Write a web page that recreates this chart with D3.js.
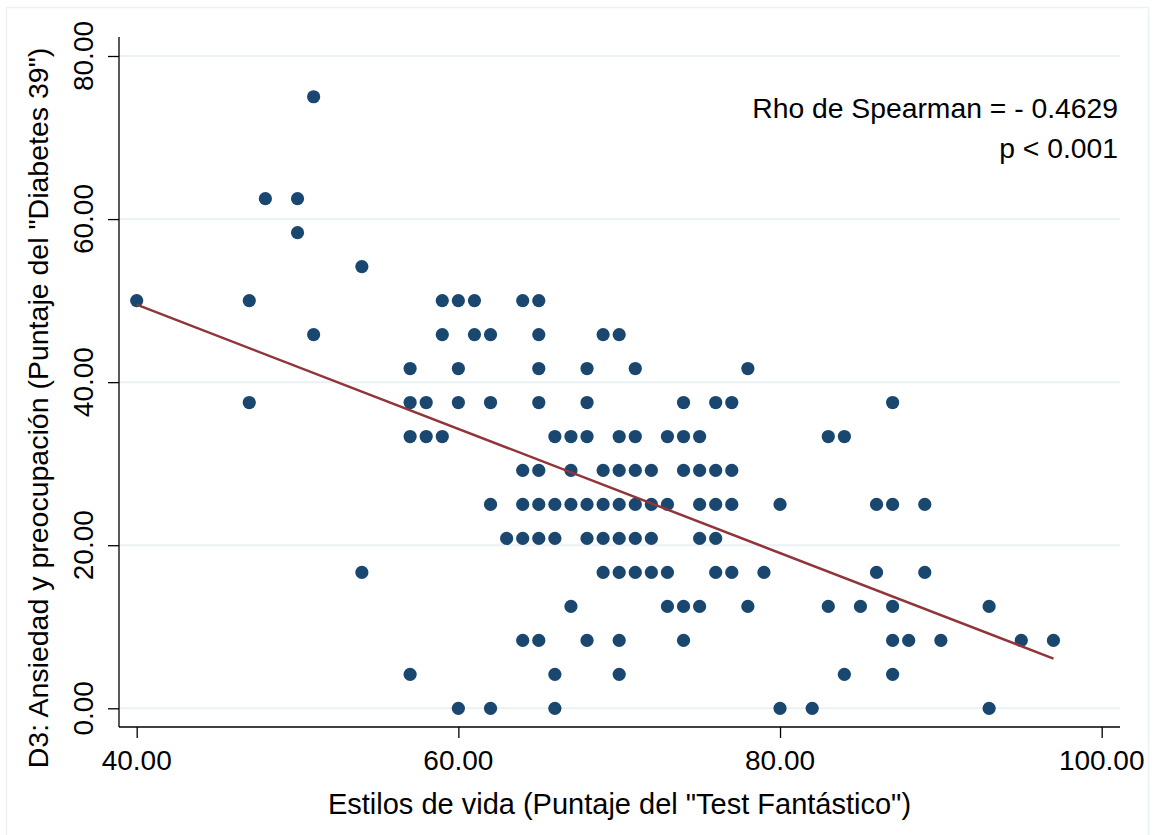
<!DOCTYPE html>
<html>
<head>
<meta charset="utf-8">
<script src="https://cdn.jsdelivr.net/npm/d3@7"></script>
<style>
  html, body { margin: 0; padding: 0; background: #ffffff; }
  svg { display: block; font-family: "Liberation Sans", Arial, sans-serif; }
</style>
</head>
<body>
<svg id="chart" width="1153" height="835"></svg>
<script>
// ---- data ----
const xValues = [
  40,
  47, 47,
  48,
  50, 50,
  51, 51,
  54, 54,
  57, 57, 57, 57,
  58, 58,
  59, 59, 59,
  60, 60, 60, 60,
  61, 61,
  62, 62, 62, 62,
  63,
  64, 64, 64, 64, 64,
  65, 65, 65, 65, 65, 65, 65, 65,
  66, 66, 66, 66, 66,
  67, 67, 67, 67,
  68, 68, 68, 68, 68, 68,
  69, 69, 69, 69, 69,
  70, 70, 70, 70, 70, 70, 70, 70,
  71, 71, 71, 71, 71, 71,
  72, 72, 72, 72,
  73, 73, 73, 73,
  74, 74, 74, 74, 74,
  75, 75, 75, 75, 75,
  76, 76, 76, 76, 76,
  77, 77, 77, 77,
  78, 78,
  79,
  80, 80,
  82,
  83, 83,
  84, 84,
  85,
  86, 86,
  87, 87, 87, 87, 87,
  88,
  89, 89,
  90,
  93, 93,
  95,
  97
];
const yValues = [
  50,
  50, 37.5,
  62.5,
  62.5, 58.33,
  75, 45.83,
  54.17, 16.67,
  41.67, 37.5, 33.33, 4.17,
  37.5, 33.33,
  50, 45.83, 33.33,
  50, 41.67, 37.5, 0,
  50, 45.83,
  45.83, 37.5, 25, 0,
  20.83,
  50, 29.17, 25, 20.83, 8.33,
  50, 45.83, 41.67, 37.5, 29.17, 25, 20.83, 8.33,
  33.33, 25, 20.83, 4.17, 0,
  33.33, 29.17, 25, 12.5,
  41.67, 37.5, 33.33, 25, 20.83, 8.33,
  45.83, 29.17, 25, 20.83, 16.67,
  45.83, 33.33, 29.17, 25, 20.83, 16.67, 8.33, 4.17,
  41.67, 33.33, 29.17, 25, 20.83, 16.67,
  29.17, 25, 20.83, 16.67,
  33.33, 25, 16.67, 12.5,
  37.5, 33.33, 29.17, 12.5, 8.33,
  33.33, 29.17, 25, 20.83, 12.5,
  37.5, 29.17, 25, 20.83, 16.67,
  37.5, 29.17, 25, 16.67,
  41.67, 12.5,
  16.67,
  25, 0,
  0,
  33.33, 12.5,
  33.33, 4.17,
  12.5,
  25, 16.67,
  37.5, 25, 12.5, 8.33, 4.17,
  8.33,
  25, 16.67,
  8.33,
  12.5, 0,
  8.33,
  8.33
];
// fitted line end points
const fitX = [40, 97];
const fitY = [49.5, 6.1];
const xTicks = [40, 60, 80, 100];
const yTicks = [0, 20, 40, 60, 80];
const xTitle = 'Estilos de vida (Puntaje del "Test Fantástico")';
const yTitle = 'D3: Ansiedad y preocupación (Puntaje del "Diabetes 39")';
const annotation = ['Rho de Spearman = - 0.4629', 'p < 0.001'];

// ---- layout ----
const svg = d3.select('#chart');
const plotLeft = 119, plotRight = 1120, plotTop = 37, plotBottom = 727;

const x = d3.scaleLinear().domain([40, 100]).range([136.7, 1101.7]);
const y = d3.scaleLinear().domain([0, 80]).range([708.3, 56]);

const fmt = d3.format('.2f');

// outer frame
svg.append('rect')
  .attr('x', 6.5).attr('y', 7.5)
  .attr('width', 1142).attr('height', 845)
  .attr('fill', 'none').attr('stroke', '#eaf2f3').attr('stroke-width', 1.5);

// gridlines
svg.append('g').selectAll('line').data(yTicks).join('line')
  .attr('x1', plotLeft).attr('x2', plotRight)
  .attr('y1', d => y(d)).attr('y2', d => y(d))
  .attr('stroke', '#eaf2f3').attr('stroke-width', 2);

// y axis
const yAxis = svg.append('g')
  .attr('transform', `translate(${plotLeft},0)`)
  .call(d3.axisLeft(y).tickValues(yTicks).tickSize(11).tickSizeOuter(0).tickFormat(() => ''));
yAxis.select('.domain').remove();
yAxis.selectAll('.tick line').attr('stroke', '#000').attr('stroke-width', 1.3);
svg.append('line')
  .attr('x1', plotLeft).attr('x2', plotLeft)
  .attr('y1', plotTop).attr('y2', plotBottom)
  .attr('stroke', '#000').attr('stroke-width', 1.3);
svg.append('g').selectAll('text').data(yTicks).join('text')
  .attr('transform', d => `translate(93,${y(d)}) rotate(-90)`)
  .attr('text-anchor', 'middle')
  .attr('font-size', 28)
  .attr('fill', '#000')
  .text(d => fmt(d));

// x axis
const xAxis = svg.append('g')
  .attr('transform', `translate(0,${plotBottom})`)
  .call(d3.axisBottom(x).tickValues(xTicks).tickSize(11).tickSizeOuter(0).tickFormat(() => ''));
xAxis.select('.domain').remove();
xAxis.selectAll('.tick line').attr('stroke', '#000').attr('stroke-width', 1.3);
svg.append('line')
  .attr('x1', plotLeft).attr('x2', plotRight)
  .attr('y1', plotBottom).attr('y2', plotBottom)
  .attr('stroke', '#000').attr('stroke-width', 1.3);
svg.append('g').selectAll('text').data(xTicks).join('text')
  .attr('x', d => x(d)).attr('y', 770)
  .attr('text-anchor', 'middle')
  .attr('font-size', 28)
  .attr('fill', '#000')
  .text(d => fmt(d));

// titles
svg.append('text')
  .attr('x', (plotLeft + plotRight) / 2).attr('y', 814)
  .attr('text-anchor', 'middle').attr('font-size', 29).attr('fill', '#000')
  .text(xTitle);
svg.append('text')
  .attr('transform', `translate(48,408) rotate(-90)`)
  .attr('text-anchor', 'middle').attr('font-size', 28.5).attr('fill', '#000')
  .text(yTitle);

// points
const pts = xValues.map((v, i) => ({ x: v, y: yValues[i] }));
svg.append('g').selectAll('circle').data(pts).join('circle')
  .attr('cx', d => x(d.x)).attr('cy', d => y(d.y))
  .attr('r', 6.6)
  .attr('fill', '#1a476f');

// linear fit line
svg.append('path')
  .datum(fitX.map((v, i) => ({ x: v, y: fitY[i] })))
  .attr('d', d3.line().x(d => x(d.x)).y(d => y(d.y)))
  .attr('fill', 'none').attr('stroke', '#90353b').attr('stroke-width', 2.5);

// annotation
svg.append('g').selectAll('text').data(annotation).join('text')
  .attr('x', 1118).attr('y', (d, i) => 118 + i * 40)
  .attr('text-anchor', 'end').attr('font-size', 28.3).attr('fill', '#000')
  .text(d => d);
</script>
</body>
</html>
